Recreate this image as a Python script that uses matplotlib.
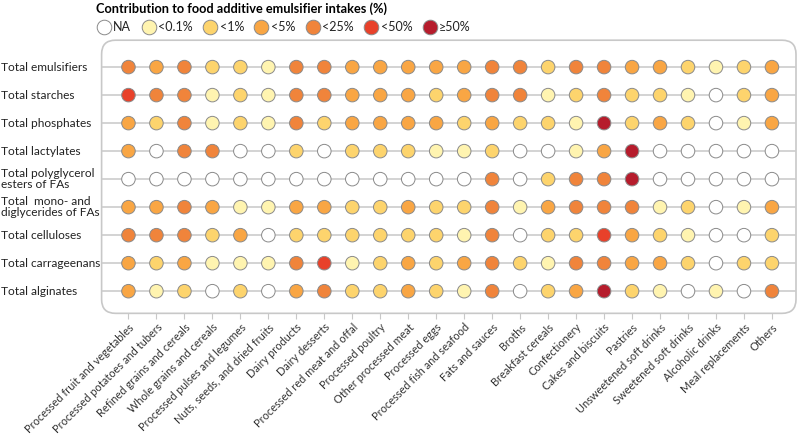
import numpy as np
import matplotlib
matplotlib.use('Agg')
from matplotlib import pyplot as plt
from matplotlib.lines import Line2D
from matplotlib.patches import FancyBboxPatch
from matplotlib import transforms

plt.rcParams['font.family'] = ['Lato', 'DejaVu Sans']

# categories
rows = ['Total emulsifiers', 'Total starches', 'Total phosphates', 'Total lactylates',
        'Total polyglycerol\nesters of FAs', 'Total  mono- and\ndiglycerides of FAs',
        'Total celluloses', 'Total carrageenans', 'Total alginates']
foods = ['Processed fruit and vegetables', 'Processed potatoes and tubers', 'Refined grains and cereals',
         'Whole grains and cereals', 'Processed pulses and legumes', 'Nuts, seeds, and dried fruits',
         'Dairy products', 'Dairy desserts', 'Processed red meat and offal', 'Processed poultry',
         'Other processed meat', 'Processed eggs', 'Processed fish and seafood', 'Fats and sauces',
         'Broths', 'Breakfast cereals', 'Confectionery', 'Cakes and biscuits', 'Pastries',
         'Unsweetened soft drinks', 'Sweetened soft drinks', 'Alcoholic drinks',
         'Meal replacements', 'Others']
levels = ['NA', '<0.1%', '<1%', '<5%', '<25%', '<50%', '≥50%']
level_colors = ['#ffffff', '#fff4b0', '#fdd46d', '#f9a644', '#f0843b', '#e8412a', '#b61c2c']

# contribution class per row (0 = NA ... 6 = >=50%)
emulsifiers   = [4, 3, 4, 2, 2, 1, 4, 4, 3, 3, 3, 3, 3, 4, 4, 2, 4, 4, 3, 3, 2, 1, 2, 3]
starches      = [5, 4, 4, 1, 2, 1, 4, 4, 3, 3, 3, 2, 3, 4, 4, 1, 2, 4, 2, 2, 1, 0, 2, 3]
phosphates    = [3, 2, 4, 1, 2, 1, 4, 2, 3, 3, 3, 3, 2, 3, 2, 2, 1, 6, 2, 3, 2, 0, 1, 3]
lactylates    = [3, 0, 4, 4, 0, 0, 2, 0, 2, 2, 2, 1, 1, 2, 0, 0, 1, 3, 6, 0, 0, 0, 0, 0]
polyglycerol  = [0, 0, 0, 0, 0, 0, 0, 0, 0, 0, 0, 0, 0, 4, 0, 2, 4, 4, 6, 0, 0, 0, 0, 0]
monodi        = [3, 3, 4, 3, 1, 1, 3, 3, 2, 2, 3, 2, 2, 4, 1, 3, 4, 4, 4, 1, 2, 0, 1, 3]
celluloses    = [4, 4, 4, 2, 3, 0, 2, 2, 2, 2, 2, 2, 1, 4, 0, 2, 2, 5, 3, 2, 1, 0, 0, 2]
carrageenans  = [3, 2, 3, 1, 1, 1, 4, 5, 1, 2, 3, 2, 3, 4, 2, 1, 4, 4, 3, 3, 2, 0, 2, 2]
alginates     = [3, 1, 2, 0, 2, 0, 3, 4, 2, 2, 3, 2, 1, 4, 0, 2, 3, 6, 2, 1, 0, 1, 0, 4]

grid = np.array([emulsifiers, starches, phosphates, lactylates, polyglycerol,
                 monodi, celluloses, carrageenans, alginates])

fig = plt.figure(figsize=(8, 4.37), dpi=100)
ax = fig.add_axes([0.127, 0.283, 0.868, 0.625])

# row lines
for i in range(len(rows)):
    ax.axhline(i, color='#cccccc', linewidth=1.2, zorder=1)

xx, yy = np.meshgrid(np.arange(len(foods)), np.arange(len(rows)))
cols = np.array(level_colors)[grid.ravel()]
ax.scatter(xx.ravel(), yy.ravel(), s=95, c=cols, edgecolors='#8a8a8a', linewidths=0.7, zorder=3)

ax.set_xlim(-0.96, len(foods) - 0.14)
ax.set_ylim(len(rows) - 1 + 0.79, -0.96)
for s in ax.spines.values():
    s.set_visible(False)

# rounded frame
frame = FancyBboxPatch((0, 0), 1, 1, boxstyle='round,pad=0,rounding_size=0.02',
                       transform=ax.transAxes, facecolor='none', edgecolor='#c8c8c8',
                       linewidth=1.2, clip_on=False, zorder=0,
                       mutation_aspect=0.868 * 800 / (0.625 * 437))
ax.add_patch(frame)

ax.set_yticks([])
ax.set_xticks(np.arange(len(foods)))
ax.set_xticklabels(foods, rotation=45, ha='right', rotation_mode='anchor', fontsize=7.9, color='#333333')
ax.tick_params(axis='x', length=4, color='#c8c8c8', pad=2)

# row labels at the figure left edge
trans = transforms.blended_transform_factory(fig.transFigure, ax.transData)
for i, r in enumerate(rows):
    ax.text(0.001, i, r, transform=trans, ha='left', va='center', fontsize=8.6,
            color='#222222', linespacing=1.05)

# legend
handles = [Line2D([], [], marker='o', linestyle='none', markersize=10.5,
                  markerfacecolor=c, markeredgecolor='#8a8a8a', markeredgewidth=0.7)
           for c in level_colors]
leg = fig.legend(handles, levels, loc='upper left', bbox_to_anchor=(0.118, 0.997), ncol=7,
                 frameon=False, fontsize=9, handletextpad=0.1, columnspacing=0.75,
                 handlelength=1.3, borderaxespad=0, borderpad=0.1,
                 title='Contribution to food additive emulsifier intakes (%)',
                 title_fontproperties={'weight': 'bold', 'size': 9.2}, alignment='left')
for t in leg.get_texts():
    t.set_color('#222222')

fig.savefig('out.png', dpi=100)
